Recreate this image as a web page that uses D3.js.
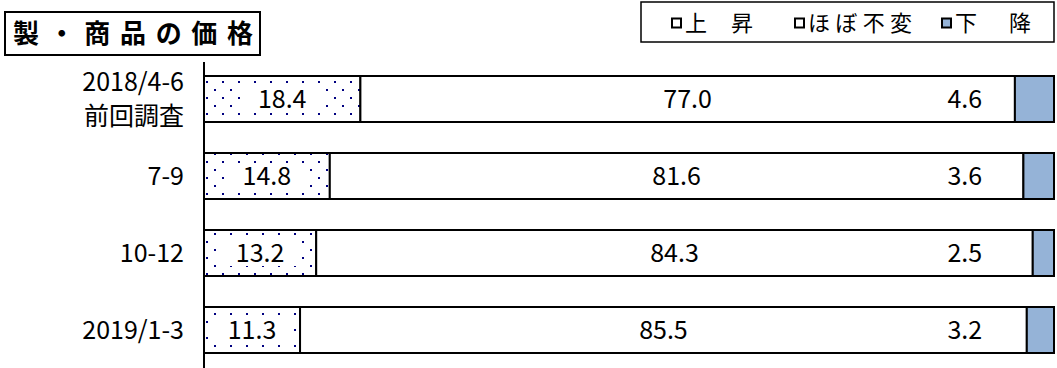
<!DOCTYPE html>
<html>
<head>
<meta charset="utf-8">
<script src="https://cdn.jsdelivr.net/npm/d3@7"></script>
<style>
  body { margin: 0; background: #fff; }
  text { font-family: "Noto Sans CJK JP", "Noto Sans", sans-serif; fill: #000; }
</style>
</head>
<body>
<div id="chart"></div>
<script>
// data
var categories = [["2018/4-6", "前回調査"], ["7-9"], ["10-12"], ["2019/1-3"]]
var up   = [18.4, 14.8, 13.2, 11.3]
var flat = [77.0, 81.6, 84.3, 85.5]
var down = [4.6, 3.6, 2.5, 3.2]
var seriesNames = ["上　昇", "ほぼ不変", "下　降"]
var title = "製・商品の価格"

var width = 1057, height = 368
var keys = ["up", "flat", "down"]
var rows = categories.map((c, i) => ({cat: i, up: up[i], flat: flat[i], down: down[i]}))

var x = d3.scaleLinear().domain([0, 100]).range([204, 1054])
var y = d3.scaleBand().domain(d3.range(categories.length))
  .range([60.5, 368.5]).paddingInner(0.4026).paddingOuter(0.2013)

var stack = d3.stack().keys(keys)(rows)

var svg = d3.select('#chart').append('svg')
  .attr('width', width).attr('height', height)

var pat = svg.append('defs').append('pattern')
  .attr('id', 'dots').attr('patternUnits', 'userSpaceOnUse')
  .attr('width', 16).attr('height', 16)
pat.append('rect').attr('width', 16).attr('height', 16).attr('fill', '#fff')
pat.selectAll('.d').data([[14, 1], [6, 9]]).enter().append('rect')
  .attr('x', d => d[0]).attr('y', d => d[1])
  .attr('width', 2).attr('height', 2).attr('fill', '#000080')

var fills = {up: 'url(#dots)', flat: '#fff', down: '#95B3D7'}

// bars
var layer = svg.selectAll('.layer').data(stack).enter().append('g')
  .attr('class', 'layer')
layer.selectAll('rect').data(d => d.map(p => Object.assign(p, {key: d.key}))).enter()
  .append('rect')
  .attr('x', d => x(d[0]))
  .attr('y', (d, i) => y(i))
  .attr('width', d => x(d[1]) - x(d[0]))
  .attr('height', y.bandwidth())
  .attr('fill', d => fills[d.key])
  .attr('stroke', '#000').attr('stroke-width', 2)

// value labels
function labelX(d) {
  if (d.key == 'down') return x(89.5)
  return (x(d[0]) + x(d[1])) / 2
}
var labels = svg.selectAll('.vlab')
  .data(stack.flatMap(s => s.map((p, i) => ({p: p, i: i, key: s.key, v: p[1] - p[0]}))))
  .enter().append('g').attr('class', 'vlab')
  .attr('transform', d => `translate(${[labelX(Object.assign(d.p, {key: d.key})), y(d.i) + y.bandwidth() / 2]})`)
labels.append('rect')
  .attr('x', d => d.key == 'up' ? -Math.min(40, (x(d.p[1]) - x(d.p[0])) / 2 - 4) : -40)
  .attr('y', -13)
  .attr('width', d => d.key == 'up' ? 2 * Math.min(40, (x(d.p[1]) - x(d.p[0])) / 2 - 4) : 80)
  .attr('height', 26)
  .attr('fill', '#fff')
labels.append('text')
  .attr('text-anchor', 'middle').attr('dy', '0.36em')
  .style('font-size', '25px')
  .text(d => d.v.toFixed(1))

// axis line
svg.append('line')
  .attr('x1', x(0)).attr('x2', x(0)).attr('y1', 62).attr('y2', height)
  .attr('stroke', '#000').attr('stroke-width', 2)

// category labels
var cat = svg.selectAll('.cat').data(categories).enter().append('text')
  .attr('class', 'cat')
  .attr('text-anchor', 'end')
  .style('font-size', '25px')
  .attr('x', 184)
  .attr('y', (d, i) => y(i) + y.bandwidth() / 2)
cat.selectAll('tspan').data(d => d).enter().append('tspan')
  .attr('x', 184)
  .attr('dy', (t, j, n) => j == 0 ? (0.36 - (n.length - 1) * 0.68) + 'em' : '1.36em')
  .text(t => t)

// title box
svg.append('rect').attr('x', 5).attr('y', 12).attr('width', 255).attr('height', 43)
  .attr('fill', '#fff').attr('stroke', '#000').attr('stroke-width', 2)
svg.append('text').attr('x', 13).attr('y', 43)
  .style('font-size', '26px').style('font-weight', 'bold')
  .attr('textLength', 240).attr('lengthAdjust', 'spacing')
  .text(title)

// legend
svg.append('rect').attr('x', 641).attr('y', 2).attr('width', 413).attr('height', 40)
  .attr('fill', '#fff').attr('stroke', '#000').attr('stroke-width', 1.5)
var legX = [672, 795, 942]
var leg = svg.selectAll('.leg').data(seriesNames).enter().append('g')
  .attr('class', 'leg')
  .attr('transform', (d, i) => `translate(${[legX[i], 23]})`)
leg.append('rect').attr('x', 0).attr('y', -4.5).attr('width', 9).attr('height', 9)
  .attr('fill', (d, i) => i == 2 ? fills.down : '#fff')
  .attr('stroke', '#000').attr('stroke-width', 2)
leg.append('text').attr('x', 13).attr('dy', '0.36em')
  .style('font-size', '22px')
  .attr('textLength', (d, i) => [68, 104, 76][i]).attr('lengthAdjust', 'spacing')
  .text(d => d)
</script>
</body>
</html>
